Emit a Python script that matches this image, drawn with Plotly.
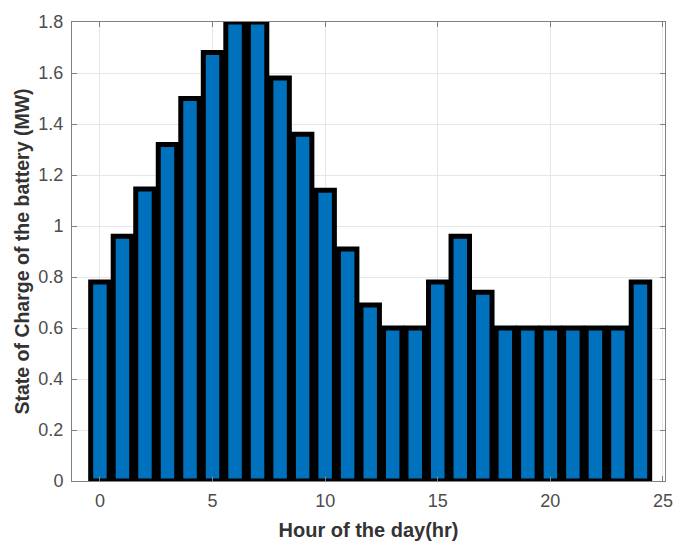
import plotly.graph_objects as go

hours = list(range(25))
soc = [0.78, 0.96, 1.145, 1.32, 1.50, 1.68, 1.80, 1.80, 1.58, 1.36, 1.14, 0.91, 0.69,
       0.60, 0.60, 0.78, 0.96, 0.74, 0.60, 0.60, 0.60, 0.60, 0.60, 0.60, 0.78]
x_ticks = [0, 5, 10, 15, 20, 25]
y_ticks = [0, 0.2, 0.4, 0.6, 0.8, 1, 1.2, 1.4, 1.6, 1.8]
y_tick_text = ["0", "0.2", "0.4", "0.6", "0.8", "1", "1.2", "1.4", "1.6", "1.8"]

fig = go.Figure(go.Bar(
    x=hours, y=soc,
    marker=dict(color="#0072BD", line=dict(color="black", width=5)),
    cliponaxis=True,
))

axis_common = dict(
    showline=True, linecolor="#808080", linewidth=1, mirror="ticks",
    ticks="inside", ticklen=5, tickcolor="#808080",
    showgrid=True, gridcolor="#E6E6E6", gridwidth=1, zeroline=False,
    tickfont=dict(family="Liberation Sans, Arial", size=18, color="#4d4d4d"),
)

fig.update_layout(
    width=685, height=550,
    margin=dict(l=72, r=18, t=15, b=63),
    paper_bgcolor="white", plot_bgcolor="white",
    bargap=0.18,
    showlegend=False,
    xaxis=dict(range=[-1.24, 25.09], tickvals=x_ticks, ticklabelstandoff=3,
               title=dict(text="<b>Hour of the day(hr)</b>", standoff=13,
                          font=dict(family="Liberation Sans, Arial", size=20, color="#333333")),
               **axis_common),
    yaxis=dict(range=[0, 1.8], tickvals=y_ticks, ticktext=y_tick_text, ticklabelstandoff=4,
               title=dict(text="<b>State of Charge of the battery (MW)</b>", standoff=3,
                          font=dict(family="Liberation Sans, Arial", size=19.5, color="#333333")),
               **axis_common),
)

fig.write_html("out.html")
